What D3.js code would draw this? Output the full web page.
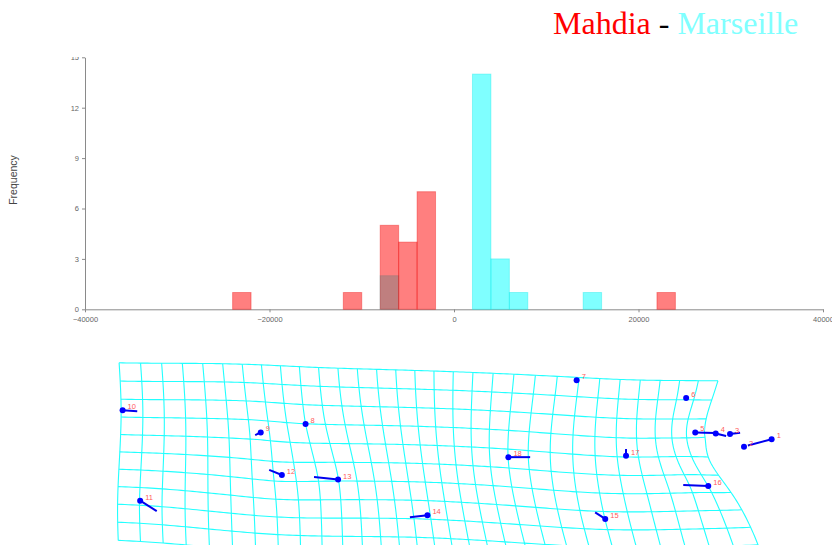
<!DOCTYPE html>
<html>
<head>
<meta charset="utf-8">
<script src="https://cdn.jsdelivr.net/npm/d3@7"></script>
<style>
  html, body { margin: 0; padding: 0; background: #fff; }
  svg { display: block; }
</style>
</head>
<body>
<svg id="chart" width="832" height="545"></svg>
<script>
// ---- Histogram data (bin lower edges and counts, bin width 2000) ----
const binWidth = 2000;
const mahdiaBins = [-24000, -12000, -8000, -6000, -4000, 22000];
const mahdiaCounts = [1, 1, 5, 4, 7, 1];
const marseilleBins = [-8000, 2000, 4000, 6000, 14000];
const marseilleCounts = [2, 14, 3, 1, 1];
const xTicks = [-40000, -20000, 0, 20000, 40000];
const yTicks = [0, 3, 6, 9, 12, 15];

// ---- Landmarks: reference and target configurations (shape units) ----
const landmarkIds = [1, 2, 3, 4, 5, 6, 7, 8, 9, 10, 11, 12, 13, 14, 15, 16, 17, 18];
const refX = [0.932, 0.920, 0.908, 0.865, 0.830, 0.742, 0.405, -0.429, -0.584, -0.947, -0.887, -0.541, -0.403, -0.108, 0.462, 0.733, 0.557, 0.262];
const refY = [0.014, 0.010, 0.053, 0.043, 0.052, 0.160, 0.215, 0.080, 0.046, 0.119, -0.188, -0.061, -0.083, -0.207, -0.192, -0.108, 0.003, -0.022];
const tarX = [1.005, 0.920, 0.877, 0.833, 0.770, 0.742, 0.405, -0.429, -0.567, -0.992, -0.938, -0.502, -0.329, -0.054, 0.493, 0.810, 0.557, 0.195];
const tarY = [0.033, 0.010, 0.049, 0.051, 0.054, 0.160, 0.215, 0.080, 0.054, 0.122, -0.156, -0.077, -0.091, -0.201, -0.212, -0.111, -0.018, -0.022];

// Lattice laid over the reference configuration, and warp magnification
const gridX0 = -0.969, gridX1 = 0.831, gridY0 = 0.27;
const gridCols = 30, gridRows = 10, rowStep = 0.057;
const gridSlope = 0.034;   // rows fall slightly towards the right
const gridMag = 0.55;

const svg = d3.select("#chart");

// ---------------- Title ----------------
const title = svg.append("text")
  .attr("x", 553).attr("y", 34)
  .attr("font-family", "'Liberation Serif', 'Times New Roman', serif")
  .attr("font-size", 32);
title.append("tspan").attr("fill", "#ff0000").text("Mahdia");
title.append("tspan").attr("fill", "#000000").text(" - ");
title.append("tspan").attr("fill", "#80ffff").text("Marseille");

// ---------------- Histogram ----------------
const x = d3.scaleLinear().domain([-40000, 40000]).range([85, 823]);
const y = d3.scaleLinear().domain([0, 15]).range([309.3, 57.3]);

svg.append("defs").append("clipPath").attr("id", "histClip")
  .append("rect").attr("x", 0).attr("y", 57).attr("width", 832).attr("height", 280);

const hist = svg.append("g").attr("clip-path", "url(#histClip)");

const axisFont = "'Liberation Sans', Arial, sans-serif";

hist.append("g")
  .attr("transform", `translate(0,${y(0)})`)
  .call(d3.axisBottom(x).tickValues(xTicks).tickSize(3).tickSizeOuter(0).tickFormat(d3.format("d")))
  .call(g => g.select(".domain").attr("stroke", "#8a8a8a"))
  .call(g => g.selectAll(".tick line").attr("stroke", "#8a8a8a"))
  .call(g => g.selectAll(".tick text").attr("fill", "#666").attr("font-size", 7.5)
    .attr("font-family", axisFont).attr("dy", "0.9em"));

hist.append("g")
  .attr("transform", `translate(${x(-40000)},0)`)
  .call(d3.axisLeft(y).tickValues(yTicks).tickSize(3).tickSizeOuter(0))
  .call(g => g.select(".domain").attr("stroke", "#8a8a8a"))
  .call(g => g.selectAll(".tick line").attr("stroke", "#8a8a8a"))
  .call(g => g.selectAll(".tick text").attr("fill", "#666").attr("font-size", 7.5)
    .attr("font-family", axisFont));

svg.append("text")
  .attr("transform", `translate(17,180) rotate(-90)`)
  .attr("text-anchor", "middle")
  .attr("font-family", axisFont)
  .attr("font-size", 10.5)
  .attr("fill", "#444")
  .text("Frequency");

function drawBars(bins, counts, fill, stroke) {
  const data = bins.map((b, i) => ({ x0: b, x1: b + binWidth, n: counts[i] }));
  hist.append("g").selectAll("rect").data(data).join("rect")
    .attr("x", d => x(d.x0))
    .attr("width", d => x(d.x1) - x(d.x0))
    .attr("y", d => y(d.n))
    .attr("height", d => y(0) - y(d.n))
    .attr("fill", fill)
    .attr("stroke", stroke)
    .attr("stroke-width", 1);
}
drawBars(marseilleBins, marseilleCounts, "rgba(0,255,255,0.5)", "rgba(0,230,230,0.35)");
drawBars(mahdiaBins, mahdiaCounts, "rgba(255,0,0,0.5)", "rgba(235,0,0,0.35)");

// ---------------- Thin-plate spline deformation grid ----------------
const sx = d3.scaleLinear().domain([-1, 1]).range([120, 770]);
const sy = d3.scaleLinear().domain([-1, 1]).range([775, 125]);

function U(r2) { return r2 > 0 ? r2 * Math.log(r2) : 0; }

function solve(A, b) {
  const n = b.length;
  const M = A.map((row, i) => row.concat([b[i]]));
  for (let c = 0; c < n; c++) {
    let p = c;
    for (let r = c + 1; r < n; r++) if (Math.abs(M[r][c]) > Math.abs(M[p][c])) p = r;
    [M[c], M[p]] = [M[p], M[c]];
    for (let r = 0; r < n; r++) {
      if (r === c) continue;
      const f = M[r][c] / M[c][c];
      for (let k = c; k <= n; k++) M[r][k] -= f * M[c][k];
    }
  }
  return M.map((row, i) => row[n] / row[i]);
}

function tpsFit(sxs, sys, txs, tys) {
  const n = sxs.length;
  const L = [];
  for (let i = 0; i < n + 3; i++) L.push(new Array(n + 3).fill(0));
  for (let i = 0; i < n; i++) {
    for (let j = 0; j < n; j++) {
      const dx = sxs[i] - sxs[j], dy = sys[i] - sys[j];
      L[i][j] = U(dx * dx + dy * dy);
    }
    L[i][n] = 1; L[i][n + 1] = sxs[i]; L[i][n + 2] = sys[i];
    L[n][i] = 1; L[n + 1][i] = sxs[i]; L[n + 2][i] = sys[i];
  }
  const wx = solve(L, txs.concat([0, 0, 0]));
  const wy = solve(L, tys.concat([0, 0, 0]));
  return function (px, py) {
    let ox = wx[n] + wx[n + 1] * px + wx[n + 2] * py;
    let oy = wy[n] + wy[n + 1] * px + wy[n + 2] * py;
    for (let i = 0; i < n; i++) {
      const dx = px - sxs[i], dy = py - sys[i];
      const u = U(dx * dx + dy * dy);
      ox += wx[i] * u; oy += wy[i] * u;
    }
    return [ox, oy];
  };
}

const magX = refX.map((r, i) => r + gridMag * (tarX[i] - r));
const magY = refY.map((r, i) => r + gridMag * (tarY[i] - r));
const warp = tpsFit(refX, refY, magX, magY);
const colStep = (gridX1 - gridX0) / gridCols;
const sub = 6;
// lattice node (u along columns, v along rows) -> reference space -> warped
function node(u, v) {
  return warp(gridX0 + u * colStep, gridY0 - v * rowStep - u * colStep * gridSlope);
}
const lineGen = d3.line().x(d => sx(d[0])).y(d => sy(d[1]));

const gridLines = [];
for (let j = 0; j <= gridRows; j++) {
  gridLines.push(d3.range(gridCols * sub + 1).map(k => node(k / sub, j)));
}
for (let i = 0; i <= gridCols; i++) {
  gridLines.push(d3.range(gridRows * sub + 1).map(k => node(i, k / sub)));
}

const gridG = svg.append("g");
gridG.selectAll("path").data(gridLines).join("path")
  .attr("d", lineGen)
  .attr("fill", "none")
  .attr("stroke", "#22ffff")
  .attr("stroke-width", 1.1);

// ---------------- Landmark displacement vectors ----------------
const lm = landmarkIds.map((id, i) => ({ id, rx: refX[i], ry: refY[i], tx: tarX[i], ty: tarY[i] }));
const lmG = svg.append("g");
lmG.selectAll("line").data(lm).join("line")
  .attr("x1", d => sx(d.rx)).attr("y1", d => sy(d.ry))
  .attr("x2", d => sx(d.tx)).attr("y2", d => sy(d.ty))
  .attr("stroke", "#0000ee").attr("stroke-width", 2);
lmG.selectAll("circle").data(lm).join("circle")
  .attr("cx", d => sx(d.tx)).attr("cy", d => sy(d.ty))
  .attr("r", 3).attr("fill", "#0000ff");
lmG.selectAll("text").data(lm).join("text")
  .attr("x", d => sx(d.tx) + 5).attr("y", d => sy(d.ty) - 1)
  .attr("font-family", axisFont).attr("font-size", 7.5)
  .attr("fill", "#ff5a5a")
  .text(d => d.id);
</script>
</body>
</html>
